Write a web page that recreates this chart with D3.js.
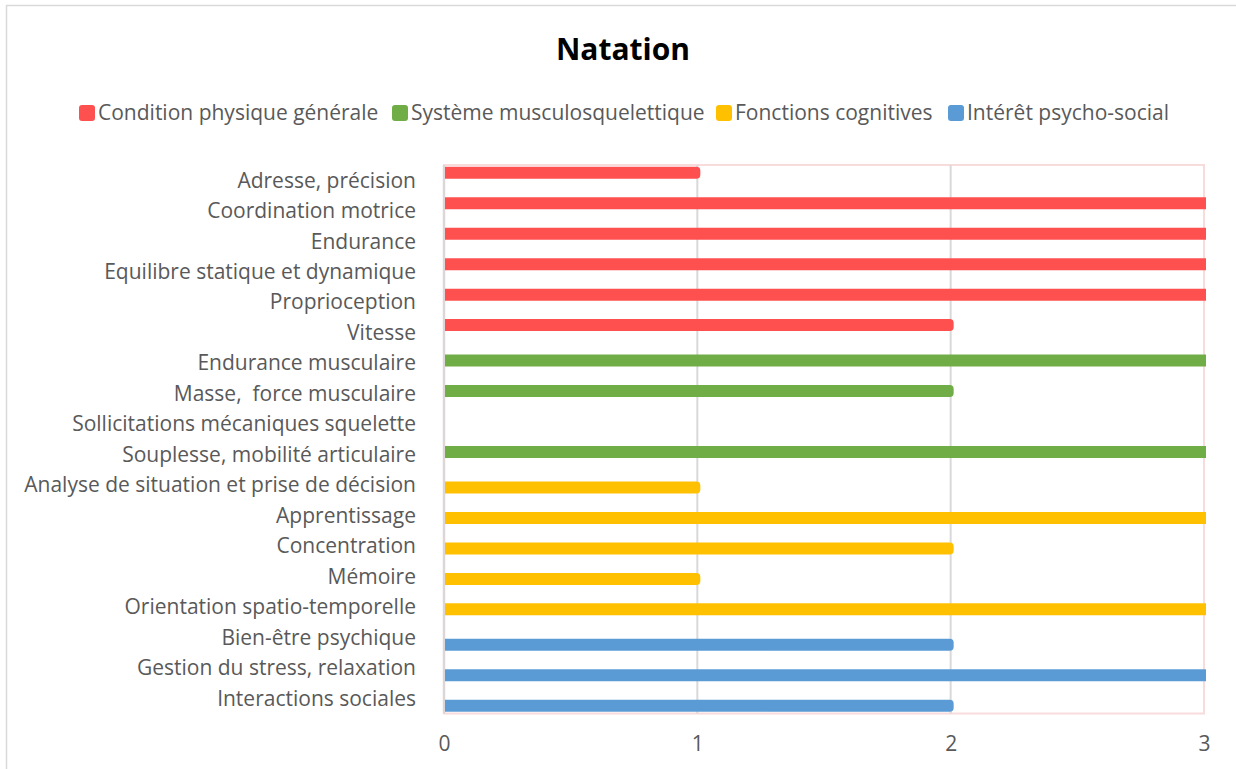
<html>
<head>
<meta charset="utf-8">
<script src="https://d3js.org/d3.v7.min.js"></script>
<style>
body {margin:0; background:#fff;}
text {font-family: "Open Sans", sans-serif;}
</style>
</head>
<body>
<svg id="chart" width="1236" height="769"></svg>
<script>
// data
const categories = ["Adresse, précision", "Coordination motrice", "Endurance", "Equilibre statique et dynamique",
  "Proprioception", "Vitesse", "Endurance musculaire", "Masse,  force musculaire", "Sollicitations mécaniques squelette",
  "Souplesse, mobilité articulaire", "Analyse de situation et prise de décision", "Apprentissage", "Concentration",
  "Mémoire", "Orientation spatio-temporelle", "Bien-être psychique", "Gestion du stress, relaxation", "Interactions sociales"];
const seriesNames = ["Condition physique générale", "Système musculosquelettique", "Fonctions cognitives", "Intérêt psycho-social"];
const seriesColors = ["#ff5050", "#70ad47", "#ffc000", "#5b9bd5"];
const seriesOfCat = [0,0,0,0,0,0, 1,1,1,1, 2,2,2,2,2, 3,3,3];
const values = [1,3,3,3,3,2, 3,2,0,3, 1,3,2,1,3, 2,3,2];
const xTicks = [0, 1, 2, 3];

const svg = d3.select("#chart");

// outer frame
svg.append("rect").attr("x",6.5).attr("y",5.5).attr("width",1300).attr("height",900)
  .attr("fill","none").attr("stroke","#d9d9d9").attr("stroke-width",1.5);

const plot = {left:444, right:1204, top:165, bottom:713.5};

const x = d3.scaleLinear().domain([0,3]).range([plot.left, plot.right]);
const y = d3.scaleBand().domain(categories).range([plot.top, plot.bottom]);
const off = d3.scalePoint().domain(d3.range(4)).range([-7.5, 7.5]);
const barH = 12;

// title
svg.append("text").attr("x",623).attr("y",60).attr("text-anchor","middle")
  .attr("font-size",30).attr("font-weight","bold").attr("fill","#000").text("Natation");

// legend
const legendX = [79, 392, 716, 948];
const lg = svg.append("g").selectAll("g").data(seriesNames).enter().append("g")
  .attr("transform",(d,i)=>"translate(" + legendX[i] + ",105)");
lg.append("rect").attr("width",16).attr("height",16).attr("rx",3).attr("fill",(d,i)=>seriesColors[i]);
lg.append("text").attr("x",19).attr("y",8).attr("dy","0.35em").attr("font-size",21).attr("fill","#595959").text(d=>d);

// plot area frame and gridlines
svg.append("rect").attr("x",plot.left).attr("y",plot.top).attr("width",plot.right-plot.left).attr("height",plot.bottom-plot.top)
  .attr("fill","none").attr("stroke","#f8dcdc").attr("stroke-width",2);
svg.append("g").selectAll("line").data(xTicks.slice(1,3)).enter().append("line")
  .attr("x1",d=>x(d)).attr("x2",d=>x(d)).attr("y1",plot.top).attr("y2",plot.bottom)
  .attr("stroke","#d9d9d9").attr("stroke-width",2);
svg.append("line").attr("x1",plot.left).attr("x2",plot.left).attr("y1",plot.top).attr("y2",plot.bottom)
  .attr("stroke","#ddd6d6").attr("stroke-width",2.5);

// bars
function barPath(i){
  const v = values[i];
  const x0 = x(0) + 1, x1 = v === 3 ? x(v) + 2 : x(v) + 3;
  const yc = y(categories[i]) + y.bandwidth()/2 + off(seriesOfCat[i]);
  const y0 = yc - barH/2, y1 = yc + barH/2;
  const r = v === 3 ? 0 : 4;
  return "M" + x0 + "," + y0 + "H" + (x1 - r) + "Q" + x1 + "," + y0 + " " + x1 + "," + (y0 + r)
    + "V" + (y1 - r) + "Q" + x1 + "," + y1 + " " + (x1 - r) + "," + y1 + "H" + x0 + "Z";
}
svg.append("g").selectAll("path").data(d3.range(categories.length).filter(i => values[i] > 0)).enter().append("path")
  .attr("d", barPath).attr("fill", i => seriesColors[seriesOfCat[i]]);

// category labels
svg.append("g").selectAll("text").data(categories).enter().append("text")
  .attr("x",416).attr("y",d=>y(d)+y.bandwidth()/2).attr("dy","0.35em")
  .attr("text-anchor","end").attr("font-size",21).attr("fill","#595959")
  .style("white-space","pre").text(d=>d);

// x axis
const xAxis = svg.append("g").attr("transform","translate(0," + plot.bottom + ")")
  .call(d3.axisBottom(x).tickValues(xTicks).tickFormat(d3.format("d")).tickSize(0).tickPadding(23));
xAxis.select(".domain").remove();
xAxis.selectAll("text").attr("font-size",21).attr("fill","#595959").attr("font-family","Open Sans, sans-serif");
</script>
</body>
</html>
